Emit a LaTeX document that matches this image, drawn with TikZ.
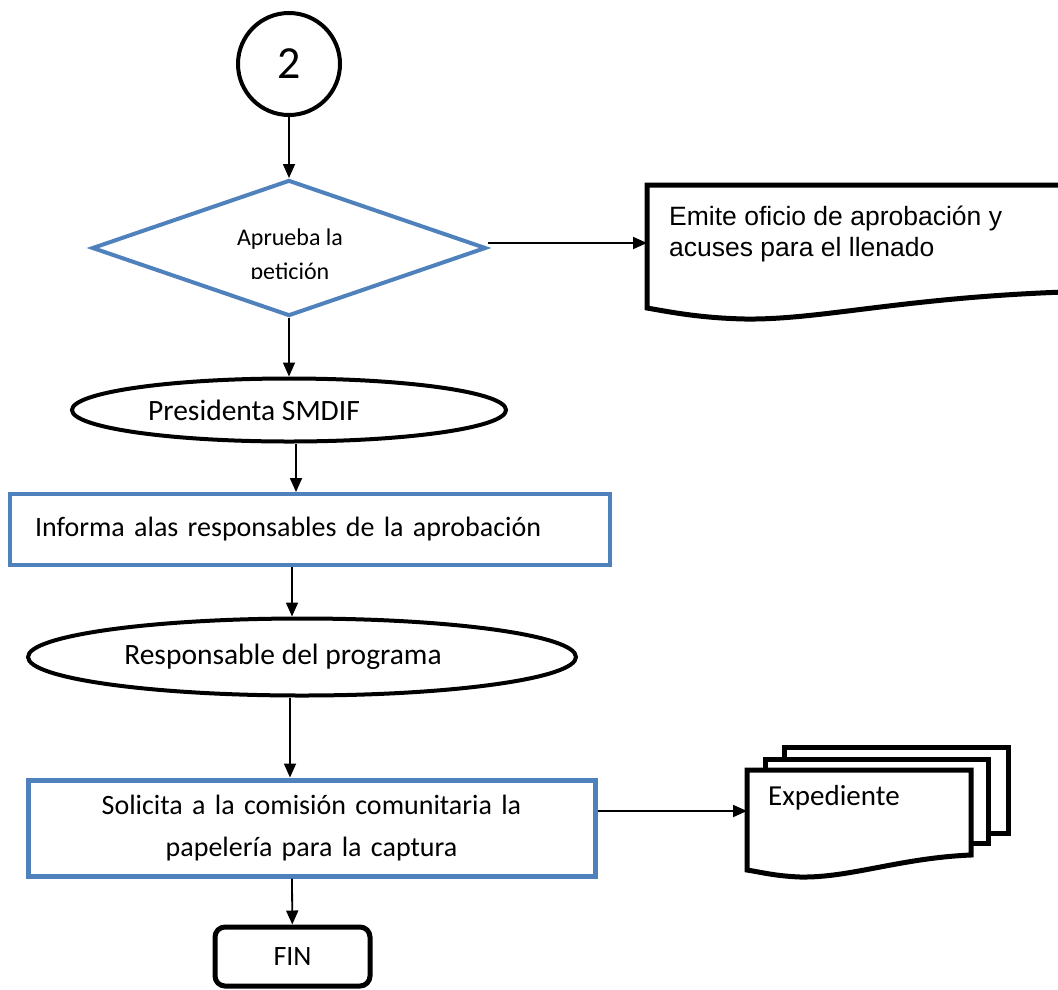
\documentclass[tikz,border=0pt]{standalone}
\usepackage{fontspec}
\setmainfont{Carlito}
\newfontfamily\arialfont{Liberation Sans}
\usetikzlibrary{shapes.geometric,arrows.meta}
\definecolor{wordblue}{HTML}{4F81BD}
\tikzset{
  arr/.style={-{Triangle[length=14pt,width=12pt]}, line width=1.8pt},
  bluebox/.style={draw=wordblue, line width=4pt, inner sep=0pt},
  oval/.style={draw, ellipse, line width=4pt, inner sep=0pt},
  sheet/.style={draw, line width=5pt, fill=white, line join=miter},
}
\begin{document}
\begin{tikzpicture}[x=1pt, y=-1pt, font=\fontsize{28}{34}\selectfont]
    \useasboundingbox (0,0) rectangle (1058,989);

    \node[draw, circle, line width=4pt, minimum size=102pt, inner sep=0pt, font=\fontsize{46}{50}\selectfont](circ) at (289,64) {2};
    \node[bluebox, diamond, minimum width=394pt, minimum height=136pt](dec) at (289,248) {};
    \begin{scope}
        \clip (150,200) rectangle (430,278.5);
        \node[align=center, font=\fontsize{24}{34}\selectfont](decT) at (290,256) {Aprueba la\\petición};
    \end{scope}

    \node[oval, minimum width=434pt, minimum height=63pt,
          label={[xshift=-35pt, font=\fontsize{29.5}{34}\selectfont]center:Presidenta SMDIF}](pres) at (289,410) {};
    \node[bluebox, rectangle, minimum width=600pt, minimum height=71pt, text width=550pt, inner xsep=25pt, align=left](inf) at (310,529.5) {Informa alas responsables de la aprobación};
    \node[oval, minimum width=548pt, minimum height=77pt,
          label={[xshift=-19pt, font=\fontsize{29.5}{34}\selectfont]center:Responsable del programa}](resp) at (302,657) {};
    \node[bluebox, rectangle, line width=5pt, minimum width=567pt, minimum height=96pt, text width=540pt, align=center, font=\fontsize{28}{42}\selectfont](sol) at (311.5,828) {Solicita a la comisión comunitaria la\\papelería para la captura};
    \node[draw, rectangle, rounded corners=10pt, line width=5pt, minimum width=155pt, minimum height=59pt](fin) at (292.5,956.5) {FIN};

    % documento de salida
    \draw[sheet] (647,308) -- (647,185) -- (1064,185) -- (1064,292) .. controls (900,298) and (820,320) .. (745,319) .. controls (700,318) and (670,312) .. cycle;
    \node[anchor=base west, inner sep=0pt, align=left, font=\arialfont\fontsize{26.5}{31}\selectfont](emite) at (669,256) {Emite oficio de aprobación y\\acuses para el llenado};
    \coordinate (emiteL) at (647,243);

    % expediente
    \draw[sheet] (784,747) rectangle (1008,833);
    \draw[sheet] (765,759) rectangle (988,843);
    \draw[sheet] (747,870) -- (747,770) -- (971,770) -- (971,855) .. controls (900,858) and (850,878) .. (800,877) .. controls (775,876) and (760,872) .. cycle;
    \node[anchor=base west, inner sep=0pt, font=\fontsize{29}{34}\selectfont](exp) at (768,805) {Expediente};
    \coordinate (expL) at (747,811);

    \draw[arr] (circ) -- (dec);
    \draw[arr] (dec) -- (pres);
    \draw[arr] (dec.east |- emiteL) -- (emiteL);
    \draw[arr] (296,0 |- pres.south) -- (296,0 |- inf.north);
    \draw[arr] (292,0 |- inf.south) -- (292,0 |- resp.north);
    \draw[arr] (290,0 |- resp.south) -- (290,0 |- sol.north);
    \draw[arr] (292,0 |- sol.south) -- (fin);
    \draw[arr] (sol.east |- expL) -- (expL);
\end{tikzpicture}
\end{document}
